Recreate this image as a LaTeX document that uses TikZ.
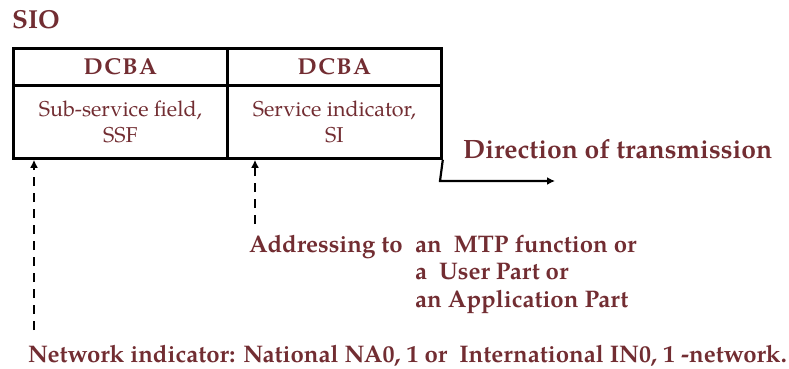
\documentclass[tikz,border=0pt]{standalone}
\usepackage{fontspec}
\setmainfont{TeX Gyre Pagella}
\usetikzlibrary{arrows.meta}
\definecolor{sioText}{RGB}{114,45,50}
\begin{document}
\begin{tikzpicture}[x=1pt,y=-1pt,
  cell/.style={draw=black,line width=2.8pt,anchor=north west,inner sep=0pt,text=sioText},
  hdr/.style={cell,minimum width=214pt,minimum height=37pt,font=\fontsize{23}{26}\selectfont\bfseries},
  body/.style={cell,minimum width=214pt,minimum height=73pt,align=center,font=\fontsize{21.5}{26}\selectfont},
  lbl/.style={text=sioText,inner sep=0pt,anchor=base west,font=\fontsize{24}{26}\selectfont\bfseries},
  dasharrow/.style={line width=2.4pt,dash pattern=on 9pt off 7pt,-{Latex[length=8pt,width=8pt]}}]
\useasboundingbox (0,0) rectangle (789,369);
% field header and body cells
\node[hdr]  (h1) at (12,47)  {D\kern1.5pt C\kern1.5pt B\kern1.5pt A};
\node[hdr]  (h2) at (226,47) {D\kern1.5pt C\kern1.5pt B\kern1.5pt A};
\node[body] (b1) at (12,84)  {Sub-service field,\\SSF};
\node[body] (b2) at (226,84) {Service indicator,\\SI};
% labels
\node[lbl,font=\fontsize{26}{28}\selectfont\bfseries] (sio) at (12,29) {SIO};
\node[lbl,font=\fontsize{26.5}{28}\selectfont\bfseries] (dir) at (463,158) {Direction of transmission};
\node[lbl] (addr) at (249,252) {Addressing to};
\node[lbl] (mtp)  at (415,252) {an\ \ MTP function or};
\node[lbl] (user) at (415,279) {a\ \ User Part or};
\node[lbl] (app)  at (415,307) {an Application Part};
\node[lbl] (net)  at (28,362) {Network indicator: National NA0, 1 or\ \ International IN0, 1 -network.};
% direction of transmission
\coordinate (bend) at (440,181);
\coordinate (dirEnd) at (555,181);
\draw[line width=2.2pt,-{Latex[length=8pt,width=8pt]}] (b2.south east) -- (bend) -- (dirEnd);
% indicator pointers
\coordinate (nStart) at (34,330);
\coordinate (sStart) at (255,224);
\draw[dasharrow] (nStart) -- (nStart |- b1.south);
\draw[dasharrow] (sStart) -- (sStart |- b2.south);
\end{tikzpicture}
\end{document}
